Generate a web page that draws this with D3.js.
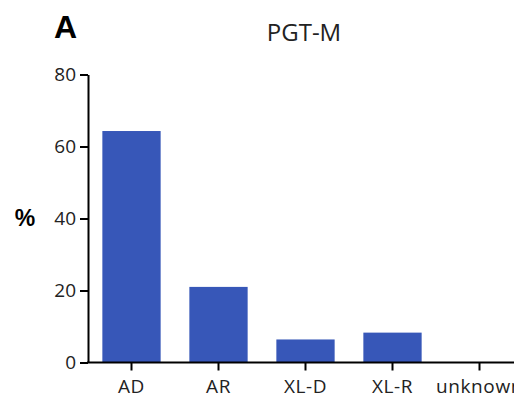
<!DOCTYPE html>
<html><head><meta charset="utf-8">
<script src="https://cdn.jsdelivr.net/npm/d3@7"></script>
<style>body{margin:0;background:#fff}svg{display:block}</style>
</head><body>
<svg id="c" width="514" height="397"></svg>
<script>
const categories = ["AD", "AR", "XL-D", "XL-R", "unknown"];
const values = [64.3, 21.0, 6.4, 8.3, 0];
const yTicks = [0, 20, 40, 60, 80];
const title = "PGT-M";
const panel = "A";
const yLabel = "%";

const svg = d3.select("#c");
const font = "'Open Sans', 'Liberation Sans', sans-serif";
const x0 = 88, y0 = 362.5;
const x = d3.scaleBand().domain(categories).range([x0, x0 + 5 * 87]).paddingInner(0.33).paddingOuter(0.165);
const y = d3.scaleLinear().domain([0, 80]).range([y0, 74.5]);

svg.selectAll("rect.bar").data(categories).enter().append("rect")
  .attr("class", "bar")
  .attr("x", d => x(d))
  .attr("width", x.bandwidth())
  .attr("y", (d, i) => y(values[i]))
  .attr("height", (d, i) => y0 - y(values[i]))
  .attr("fill", "#3757b8");

const ya = svg.append("g").attr("transform", `translate(${x0},0)`)
  .call(d3.axisLeft(y).tickValues(yTicks).tickSize(8).tickSizeOuter(0).tickPadding(4));
ya.select(".domain").attr("stroke", "#000").attr("stroke-width", 2);
ya.selectAll(".tick line").attr("stroke", "#000").attr("stroke-width", 2);
ya.selectAll(".tick text").attr("font-family", font).attr("font-size", 19).attr("fill", "#222");

const xa = svg.append("g").attr("transform", `translate(0,${y0})`)
  .call(d3.axisBottom(x).tickSize(8).tickSizeOuter(0).tickPadding(4));
xa.select(".domain").attr("stroke", "#000").attr("stroke-width", 2).attr("d", `M${x0-1},0H${x0+5*87}`);
xa.selectAll(".tick line").attr("stroke", "#000").attr("stroke-width", 2);
xa.selectAll(".tick text").attr("font-family", font).attr("font-size", 19).attr("fill", "#222")
  .attr("dy", null).attr("y", 30).attr("letter-spacing", "0.6px");

svg.append("text").attr("x", 54).attr("y", 38).attr("font-family", "'Liberation Sans', Arial, sans-serif")
  .attr("font-weight", "bold").attr("font-size", 32).text(panel);
svg.append("text").attr("x", 304).attr("y", 41).attr("text-anchor", "middle").attr("font-family", font)
  .attr("font-size", 24).attr("fill", "#222").text(title);
svg.append("text").attr("x", 25).attr("y", 226).attr("text-anchor", "middle").attr("font-family", "'Liberation Sans', Arial, sans-serif")
  .attr("font-weight", "bold").attr("font-size", 23).text(yLabel);
</script>
</body></html>
